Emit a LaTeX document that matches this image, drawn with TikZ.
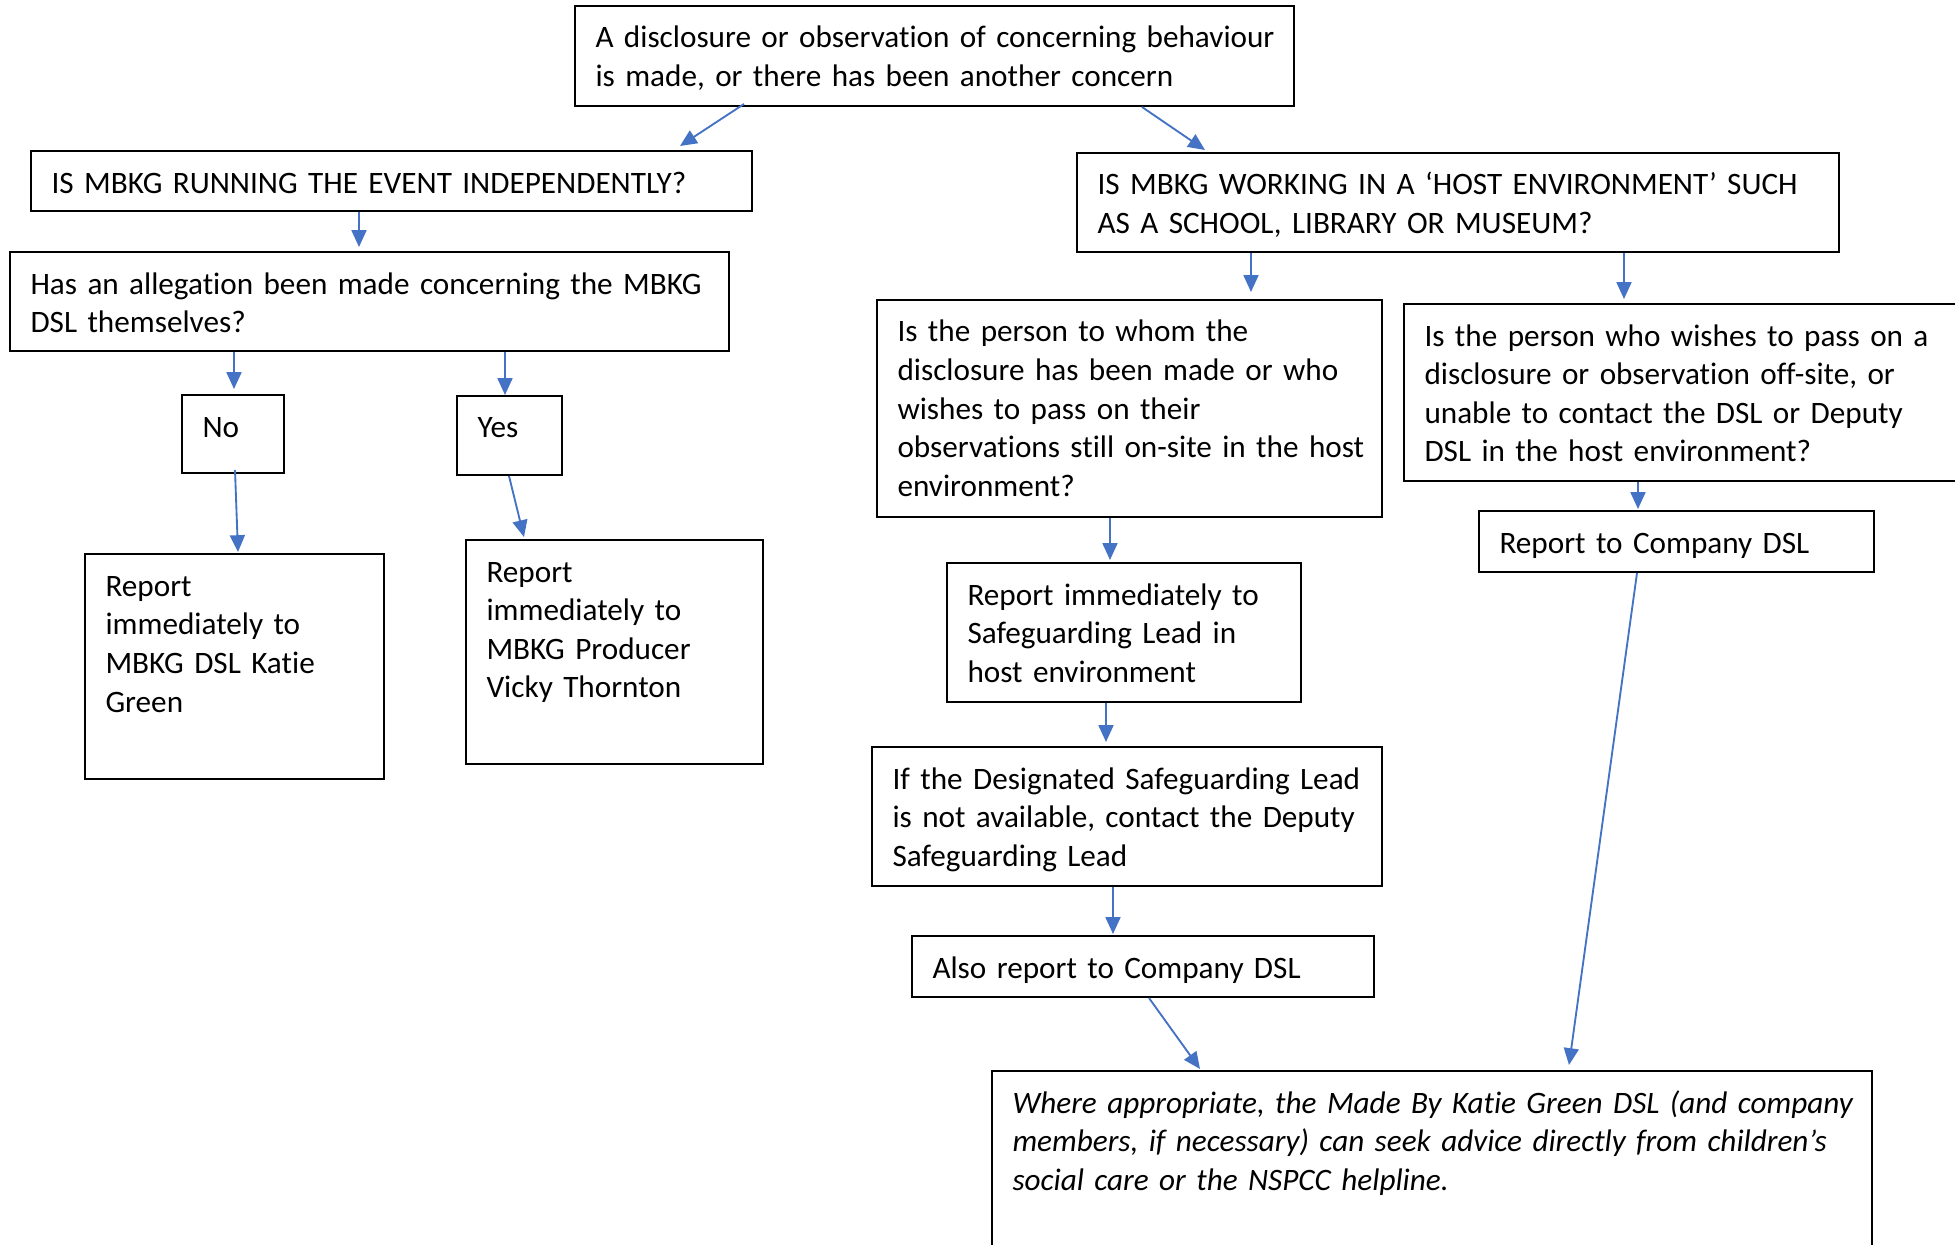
\documentclass[tikz,border=0pt]{standalone}
\usepackage{fontspec}
\setmainfont{Carlito}[Ligatures=NoCommon]
\usepackage{tikz}
\usetikzlibrary{calc,fit,arrows.meta}

\definecolor{linkblue}{RGB}{68,114,196}

\begin{document}
\begin{tikzpicture}[x=0.375pt, y=-0.375pt,
    flowbox/.style={draw=black, line width=0.75pt, rectangle, inner sep=0pt},
    flowtext/.style={anchor=base west, inner sep=0pt, align=left, text width=340pt, font=\fontsize{11.7}{14.5}\selectfont},
    flowarrow/.style={draw=linkblue, line width=0.7pt, -{Triangle[length=6.3pt,width=5.6pt]}}]

\useasboundingbox (0,0) rectangle (1955,1245);
\clip (0,0) rectangle (1955,1245);

\def\tx{21}
\def\ty{43}

% boxes, in pixel corners
\node [flowbox, fit={(575,6) (1294,106)}] (start) {};
\node [flowbox, fit={(31,151) (752,211)}] (indep) {};
\node [flowbox, fit={(1077,153) (1839,252)}] (host) {};
\node [flowbox, fit={(10,252) (729,351)}] (allege) {};
\node [flowbox, fit={(182,395) (284,473)}] (no) {};
\node [flowbox, fit={(457,396) (562,475)}] (yes) {};
\node [flowbox, fit={(85,554) (384,779)}] (katie) {};
\node [flowbox, fit={(466,540) (763,764)}] (vicky) {};
\node [flowbox, fit={(877,300) (1382,517)}] (onsite) {};
\node [flowbox, fit={(1404,304) (1975,481)}] (offsite) {};
\node [flowbox, fit={(1479,511) (1874,572)}] (company) {};
\node [flowbox, fit={(947,563) (1301,702)}] (hostlead) {};
\node [flowbox, fit={(872,747) (1382,886)}] (deputy) {};
\node [flowbox, fit={(912,936) (1374,997)}] (also) {};
\node [flowbox, fit={(992,1071) (1872,1265)}] (advice) {};

% texts
\node [flowtext] (start-txt) at ($(start.north west) + (\tx,\ty)$) {A disclosure or observation of concerning behaviour\\ is made, or there has been another concern};
\node [flowtext] (indep-txt) at ($(indep.north west) + (\tx,\ty)$) {IS MBKG RUNNING THE EVENT INDEPENDENTLY?};
\node [flowtext] (host-txt) at ($(host.north west) + (\tx,\ty)$) {IS MBKG WORKING IN A ‘HOST ENVIRONMENT’ SUCH\\ AS A SCHOOL, LIBRARY OR MUSEUM?};
\node [flowtext] (allege-txt) at ($(allege.north west) + (\tx,\ty)$) {Has an allegation been made concerning the MBKG\\ DSL themselves?};
\node [flowtext] (no-txt) at ($(no.north west) + (\tx,\ty)$) {No};
\node [flowtext] (yes-txt) at ($(yes.north west) + (\tx,\ty)$) {Yes};
\node [flowtext] (katie-txt) at ($(katie.north west) + (\tx,\ty)$) {Report\\ immediately to\\ MBKG DSL Katie\\ Green};
\node [flowtext] (vicky-txt) at ($(vicky.north west) + (\tx,\ty)$) {Report\\ immediately to\\ MBKG Producer\\ Vicky Thornton};
\node [flowtext] (onsite-txt) at ($(onsite.north west) + (\tx,\ty)$) {Is the person to whom the\\ disclosure has been made or who\\ wishes to pass on their\\ observations still on-site in the host\\ environment?};
\node [flowtext] (offsite-txt) at ($(offsite.north west) + (\tx,\ty)$) {Is the person who wishes to pass on a\\ disclosure or observation off-site, or\\ unable to contact the DSL or Deputy\\ DSL in the host environment?};
\node [flowtext] (company-txt) at ($(company.north west) + (\tx,\ty)$) {Report to Company DSL};
\node [flowtext] (hostlead-txt) at ($(hostlead.north west) + (\tx,\ty)$) {Report immediately to\\ Safeguarding Lead in\\ host environment};
\node [flowtext] (deputy-txt) at ($(deputy.north west) + (\tx,\ty)$) {If the Designated Safeguarding Lead\\ is not available, contact the Deputy\\ Safeguarding Lead};
\node [flowtext] (also-txt) at ($(also.north west) + (\tx,\ty)$) {Also report to Company DSL};
\node [flowtext, font=\fontsize{11.7}{14.5}\selectfont\itshape] (advice-txt) at ($(advice.north west) + (\tx,\ty)$) {Where appropriate, the Made By Katie Green DSL (and company\\ members, if necessary) can seek advice directly from children’s\\ social care or the NSPCC helpline.};

% connectors
\draw [flowarrow] ($(start.south west) + (170,-3)$) -- ($(indep.north west) + (650,-4)$);
\draw [flowarrow] ($(start.south west) + (568,0)$) -- ($(host.north west) + (129,-2)$);
\draw [flowarrow] ($(indep.south west) + (329,0)$) -- ($(allege.north west) + (350,-4)$);
\draw [flowarrow] ($(allege.south west) + (225,0)$) -- ($(no.north west) + (53,-5)$);
\draw [flowarrow] ($(allege.south west) + (496,0)$) -- ($(yes.north west) + (49,0)$);
\draw [flowarrow] ($(no.south west) + (54,-4)$) -- ($(katie.north west) + (154,-1)$);
\draw [flowarrow] ($(yes.south west) + (53,0)$) -- ($(vicky.north west) + (59,-2)$);
\draw [flowarrow] ($(host.south west) + (175,0)$) -- ($(onsite.north west) + (375,-7)$);
\draw [flowarrow] ($(host.south west) + (548,0)$) -- ($(offsite.north west) + (221,-4)$);
\draw [flowarrow] ($(onsite.south west) + (234,0)$) -- ($(hostlead.north west) + (164,-2)$);
\draw [flowarrow] ($(hostlead.south west) + (160,0)$) -- ($(deputy.north west) + (235,-4)$);
\draw [flowarrow] ($(deputy.south west) + (242,0)$) -- ($(also.north west) + (202,-1)$);
\draw [flowarrow] ($(offsite.south west) + (235,0)$) -- ($(company.north west) + (160,-1)$);
\draw [flowarrow] ($(company.south west) + (159,0)$) -- ($(advice.north west) + (578,-5)$);
\draw [flowarrow] ($(also.south west) + (238,0)$) -- ($(advice.north west) + (209,-1)$);

\end{tikzpicture}
\end{document}
